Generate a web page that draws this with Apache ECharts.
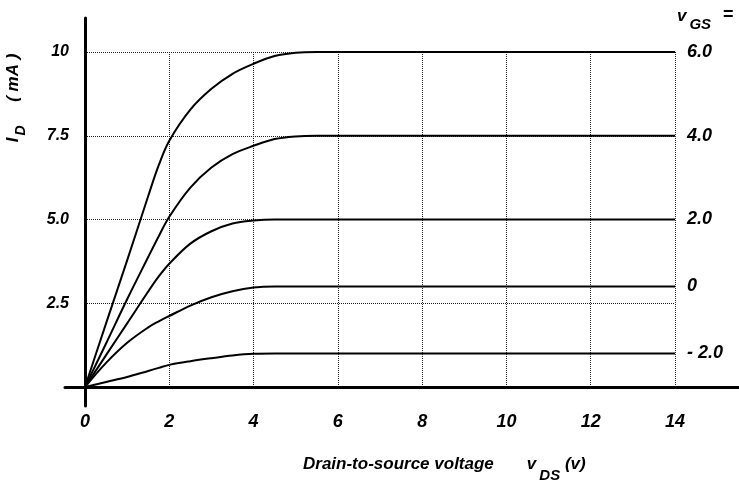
<!DOCTYPE html>
<html>
<head>
<meta charset="utf-8">
<script src="https://cdn.jsdelivr.net/npm/echarts@6/dist/echarts.min.js"></script>
<style>html,body{margin:0;padding:0;background:#fff;}#c{width:739px;height:484px;}</style>
</head>
<body>
<div id="c"></div>
<script>
// Tick values and labels
const xTicks = [0, 2, 4, 6, 8, 10, 12, 14];
const xTickLabels = ['0', '2', '4', '6', '8', '10', '12', '14'];
const yTicks = [0, 2.5, 5, 7.5, 10];
const yTickLabels = ['', '2.5', '5.0', '7.5', '10'];

// Drain-to-source voltage (V) sample points
const vDS = [0, 0.5, 1, 1.5, 1.75, 2, 2.5, 3, 3.5, 4, 4.5, 5, 5.5, 14];
// Drain current I_D (mA) for each gate voltage
const iD_6 = [0, 1.9, 3.78, 5.7, 6.62, 7.35, 8.28, 8.9, 9.35, 9.65, 9.88, 9.98, 10, 10];
const iD_4 = [0, 1.3, 2.62, 3.88, 4.5, 5.08, 5.95, 6.55, 6.95, 7.2, 7.4, 7.48, 7.5, 7.5];
const iD_2 = [0, 0.95, 1.9, 2.85, 3.3, 3.68, 4.28, 4.65, 4.88, 4.97, 5, 5, 5, 5];
const iD_0 = [0, 0.72, 1.32, 1.78, 1.96, 2.12, 2.43, 2.68, 2.86, 2.97, 3, 3, 3, 3];
const iD_m2 = [0, 0.15, 0.3, 0.48, 0.57, 0.66, 0.77, 0.86, 0.94, 0.99, 1, 1, 1, 1];
const vGSLabels = ['6.0', '4.0', '2.0', '0', '- 2.0'];
const curves = [iD_6, iD_4, iD_2, iD_0, iD_m2];

const FONT = 'Liberation Sans, Arial, Helvetica, sans-serif';
const txt = {fontFamily: FONT, fontWeight: 'bold', fontStyle: 'italic', color: '#000'};

const chart = echarts.init(document.getElementById('c'), null, {renderer: 'canvas'});

const series = curves.map((vals, i) => ({
  type: 'line',
  name: vGSLabels[i],
  xAxisIndex: 0, yAxisIndex: 0,
  data: vDS.map((x, k) => [x, vals[k]]),
  smooth: 0.35,
  showSymbol: false,
  lineStyle: {color: '#000', width: 2},
  z: 3,
  endLabel: Object.assign({show: true, formatter: '{a}', fontSize: 18, distance: 12}, txt)
}));

// helper series to activate the axis-line grid
series.push({type: 'line', xAxisIndex: 1, yAxisIndex: 1, data: [], silent: true});

chart.setOption({
  animation: false,
  grid: [
    {left: 85, right: 64, top: 52, bottom: 97, containLabel: false},
    {left: 65, right: 0, top: 18, bottom: 78, containLabel: false}
  ],
  xAxis: [
    {
      type: 'value', gridIndex: 0, min: 0, max: 14, interval: 2,
      axisLine: {show: false}, axisTick: {show: false},
      axisLabel: Object.assign({fontSize: 18, margin: 26,
        formatter: v => xTickLabels[xTicks.indexOf(v)] ?? ''}, txt),
      splitLine: {show: true, lineStyle: {type: 'dotted', color: '#222', width: 1}}
    },
    {
      type: 'value', gridIndex: 1, min: -20 / 42.14, max: 654 / 42.14,
      axisLine: {show: true, onZero: true, lineStyle: {color: '#000', width: 3}},
      axisTick: {show: false}, axisLabel: {show: false}, splitLine: {show: false}, z: 5
    }
  ],
  yAxis: [
    {
      type: 'value', gridIndex: 0, min: 0, max: 10, interval: 2.5,
      axisLine: {show: false}, axisTick: {show: false},
      axisLabel: Object.assign({fontSize: 16, margin: 16,
        formatter: v => yTickLabels[yTicks.indexOf(v)] ?? ''}, txt),
      splitLine: {show: true, lineStyle: {type: 'dotted', color: '#222', width: 1}}
    },
    {
      type: 'value', gridIndex: 1, min: -19 / 33.5, max: 369 / 33.5,
      axisLine: {show: true, onZero: true, lineStyle: {color: '#000', width: 3}},
      axisTick: {show: false}, axisLabel: {show: false}, splitLine: {show: false}, z: 5
    }
  ],
  graphic: [
    {
      type: 'text', left: 303, top: 456,
      style: {
        text: '{m|Drain-to-source voltage       v}{s|DS}{m| (v)}',
        rich: {
          m: Object.assign({fontSize: 17, lineHeight: 28, verticalAlign: 'top'}, txt),
          s: Object.assign({fontSize: 15, lineHeight: 28, verticalAlign: 'top', padding: [12, 0, 0, 3]}, txt)
        }
      }
    },
    {
      type: 'text', x: 18, y: 98, rotation: Math.PI / 2,
      style: {
        text: '{m|I}{s|D}{m|     ( mA )}',
        align: 'center', verticalAlign: 'middle',
        rich: {
          m: Object.assign({fontSize: 17, lineHeight: 26, verticalAlign: 'top'}, txt),
          s: Object.assign({fontSize: 14, lineHeight: 26, verticalAlign: 'top', padding: [9, 0, 0, 2]}, txt)
        }
      }
    },
    {
      type: 'text', left: 677, top: 8,
      style: {
        text: '{m|v}{s|GS}',
        rich: {
          m: Object.assign({fontSize: 17, lineHeight: 28, verticalAlign: 'top'}, txt),
          s: Object.assign({fontSize: 15, lineHeight: 28, verticalAlign: 'top', padding: [9, 0, 0, 3]}, txt)
        }
      }
    },
    {
      type: 'text', left: 723, top: 6,
      style: {text: '=', fontSize: 18, fontFamily: FONT, fontWeight: 'bold', fill: '#000'}
    }
  ],
  series: series
});
</script>
</body>
</html>
